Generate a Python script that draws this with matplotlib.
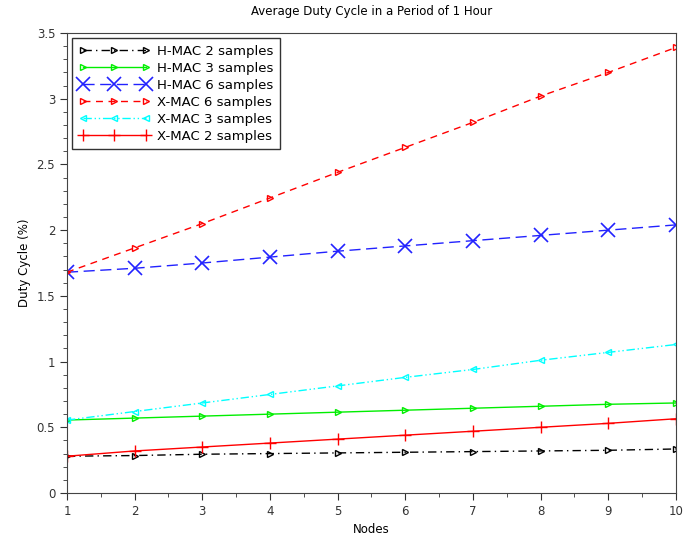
import matplotlib
matplotlib.use('Agg')
import matplotlib.pyplot as plt
from matplotlib.ticker import MultipleLocator

nodes = [1, 2, 3, 4, 5, 6, 7, 8, 9, 10]
hmac_2 = [0.28, 0.285, 0.295, 0.30, 0.305, 0.31, 0.315, 0.32, 0.325, 0.335]
hmac_3 = [0.555, 0.57, 0.585, 0.60, 0.615, 0.63, 0.645, 0.66, 0.675, 0.685]
hmac_6 = [1.68, 1.71, 1.75, 1.795, 1.84, 1.88, 1.92, 1.96, 2.00, 2.04]
xmac_6 = [1.68, 1.865, 2.05, 2.245, 2.44, 2.63, 2.82, 3.02, 3.20, 3.39]
xmac_3 = [0.555, 0.62, 0.685, 0.75, 0.815, 0.88, 0.94, 1.01, 1.07, 1.13]
xmac_2 = [0.28, 0.32, 0.35, 0.38, 0.41, 0.44, 0.47, 0.50, 0.53, 0.565]

fig = plt.figure(figsize=(6.85, 5.42), dpi=100)
ax = fig.add_axes([0.0978, 0.0904, 0.889, 0.8487])

ax.plot(nodes, hmac_2, color='black', linestyle=(0, (6, 3, 1, 3)), linewidth=1,
        marker='>', markersize=5, markerfacecolor='none', label='H-MAC 2 samples')
ax.plot(nodes, hmac_3, color='#00ee00', linestyle='-', linewidth=1,
        marker='>', markersize=5, markerfacecolor='none', label='H-MAC 3 samples')
ax.plot(nodes, hmac_6, color='#2222ff', linestyle=(0, (8, 4)), linewidth=1,
        marker='x', markersize=10, markeredgewidth=1.2, label='H-MAC 6 samples')
ax.plot(nodes, xmac_6, color='red', linestyle=(0, (5, 4)), linewidth=1,
        marker='>', markersize=5, markerfacecolor='none', label='X-MAC 6 samples')
ax.plot(nodes, xmac_3, color='cyan', linestyle=(0, (6, 2, 1, 2, 1, 2)), linewidth=1,
        marker='<', markersize=5, markerfacecolor='none', label='X-MAC 3 samples')
ax.plot(nodes, xmac_2, color='red', linestyle='-', linewidth=1,
        marker='+', markersize=9, markeredgewidth=1, label='X-MAC 2 samples')

ax.set_xlim(1, 10)
ax.set_ylim(0, 3.5)
ax.xaxis.set_major_locator(MultipleLocator(1))
ax.xaxis.set_minor_locator(MultipleLocator(0.5))
ax.yaxis.set_major_locator(MultipleLocator(0.5))
ax.yaxis.set_minor_locator(MultipleLocator(0.1))
ax.yaxis.set_major_formatter(plt.FuncFormatter(lambda v, p: '%g' % v))
ax.tick_params(which='major', direction='out', length=5, labelsize=8.5, colors='#333333')
ax.tick_params(which='minor', direction='out', length=3, colors='#333333')
for s in ax.spines.values():
    s.set_color('#444444')

ax.set_title('Average Duty Cycle in a Period of 1 Hour', fontsize=8.5, pad=13)
ax.set_xlabel('Nodes', fontsize=8.5)
ax.set_ylabel('Duty Cycle (%)', fontsize=8.5)

leg = ax.legend(loc='upper left', fontsize=9.5, numpoints=3, handlelength=5.4,
                fancybox=False, framealpha=1, edgecolor='#333333',
                borderaxespad=0.4, labelspacing=0.3, handletextpad=0.5,
                borderpad=0.5)
leg.get_frame().set_linewidth(1)

fig.savefig('out.png', dpi=100)
